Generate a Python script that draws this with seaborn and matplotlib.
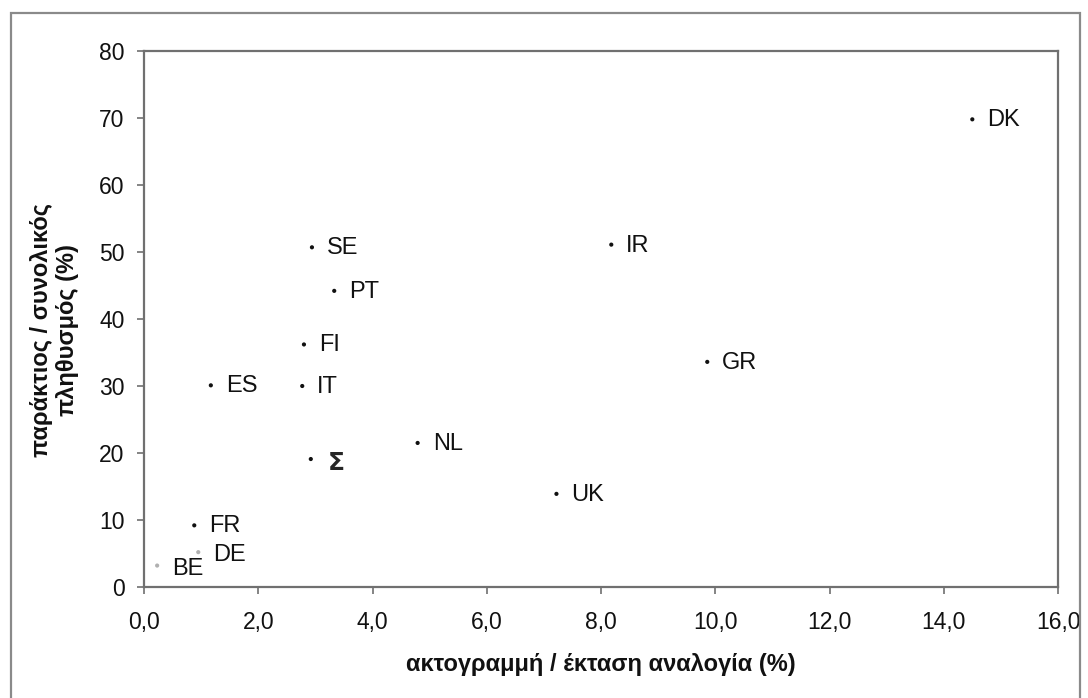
import matplotlib
matplotlib.use("Agg")
import matplotlib.pyplot as plt
import seaborn as sns
import pandas as pd
from matplotlib.patches import Rectangle
from matplotlib.ticker import FuncFormatter

# ---- data ----
codes = ["DK", "IR", "SE", "PT", "FI", "ES", "IT", "GR", "NL", "Σ", "UK", "FR", "DE", "BE"]
coast_ratio = [14.5, 8.18, 2.94, 3.33, 2.80, 1.17, 2.77, 9.86, 4.79, 2.92, 7.22, 0.88, 0.95, 0.23]
coastal_pop = [69.8, 51.1, 50.7, 44.2, 36.2, 30.1, 30.0, 33.6, 21.5, 19.1, 13.9, 9.2, 5.2, 3.2]

x_ticks = [0, 2, 4, 6, 8, 10, 12, 14, 16]
y_ticks = [0, 10, 20, 30, 40, 50, 60, 70, 80]

df = pd.DataFrame({"code": codes, "x": coast_ratio, "y": coastal_pop})

# styling (not data)
faint = {"DE", "BE"}
df["tone"] = ["faint" if c in faint else "normal" for c in df["code"]]

sns.set_style("white")
plt.rcParams["font.family"] = ["Liberation Sans", "DejaVu Sans"]

W, H = 1088, 698
fig = plt.figure(figsize=(W / 100, H / 100), dpi=100)
fig.patch.set_facecolor("white")

# outer chart frame
fig.patches.append(Rectangle((11 / W, -0.05), (1080 - 11) / W, 1.05 - 13 / H,
                             transform=fig.transFigure, fill=False,
                             edgecolor="#8a8a8a", linewidth=1.6))

ax = fig.add_axes([144 / W, 1 - 587 / H, (1058 - 144) / W, (587 - 51) / H])

sns.scatterplot(data=df, x="x", y="y", hue="tone",
                palette={"normal": "#111111", "faint": "#b0b0b0"},
                s=9, linewidth=0, legend=False, ax=ax)

for c, xv, yv in zip(codes, coast_ratio, coastal_pop):
    if c == "Σ":
        ax.annotate(c, (xv, yv), xytext=(17, -4), textcoords="offset pixels",
                    va="center", ha="left", fontsize=18, fontweight="bold",
                    family=["DejaVu Sans"])
    else:
        dy = -3 if c in ("DE", "BE") else -1
        ax.annotate(c, (xv, yv), xytext=(15, dy), textcoords="offset pixels",
                    va="center", ha="left", fontsize=17, color="#111111")

ax.set_xlim(0, 16)
ax.set_ylim(0, 80)
ax.set_xticks(x_ticks)
ax.set_yticks(y_ticks)
ax.xaxis.set_major_formatter(FuncFormatter(lambda v, p: f"{v:.1f}".replace(".", ",")))
ax.yaxis.set_major_formatter(FuncFormatter(lambda v, p: f"{int(v)}"))

for s in ax.spines.values():
    s.set_visible(True)
    s.set_color("#707070")
    s.set_linewidth(1.6)

ax.tick_params(axis="both", which="major", direction="out", length=5, width=1.2,
               color="#707070", labelsize=16.5, labelcolor="#111111",
               bottom=True, left=True)
ax.tick_params(axis="x", pad=12)
ax.tick_params(axis="y", pad=9)

ax.set_xlabel("ακτογραμμή / έκταση αναλογία (%)", fontsize=17, fontweight="bold",
              labelpad=14, color="#111111")
ax.set_ylabel("παράκτιος / συνολικός\nπληθυσμός (%)", fontsize=17, fontweight="bold",
              color="#111111", linespacing=1.15)
ax.yaxis.set_label_coords(-0.071, 0.48)

fig.savefig("out.png", dpi=100, facecolor="white")
